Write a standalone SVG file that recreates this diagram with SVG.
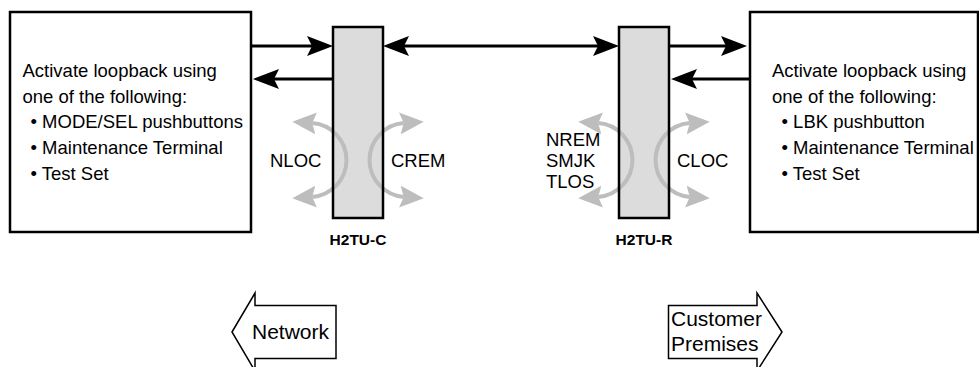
<svg xmlns="http://www.w3.org/2000/svg" width="979" height="367" viewBox="0 0 979 367">
<style>
text{font-family:"Liberation Sans",Arial,sans-serif;fill:#000}
.t{font-size:18.5px}
.lbl{font-size:15.5px;font-weight:bold;text-anchor:middle}
.big{font-size:21px}
.box{fill:#fff;stroke:#000;stroke-width:2.5}
.unitfill{fill:#dcdcdc;stroke:none}
.unitline{fill:none;stroke:#000;stroke-width:2.5}
.blk{fill:none;stroke:#000;stroke-width:3;marker-end:url(#ah)}
.dbl{marker-start:url(#ah)}
.loop{fill:none;stroke:#bdbdbd;stroke-width:4;marker-start:url(#gh);marker-end:url(#gh)}
.hollow{fill:#fff;stroke:#000;stroke-width:1.5;stroke-linejoin:miter}
</style>
<defs>
<marker id="ah" markerUnits="userSpaceOnUse" viewBox="0 -10 26 20" markerWidth="26" markerHeight="20" refX="15" refY="0" orient="auto-start-reverse">
<path d="M0,-10 L26,0 L0,10 L5,0 Z" fill="#000"/>
</marker>
<marker id="gh" markerUnits="userSpaceOnUse" viewBox="0 -11 24 22" markerWidth="24" markerHeight="22" refX="4" refY="0" orient="auto-start-reverse">
<path d="M0,-11 L24,0 L0,11 L4,0 Z" fill="#bdbdbd"/>
</marker>
</defs>

<g id="left-box">
<rect class="box" x="10" y="12" width="241" height="220"/>
<text class="t" x="22.5" y="77">Activate loopback using</text>
<text class="t" x="22.5" y="102.5">one of the following:</text>
<text class="t" x="30.5" y="128">• MODE/SEL pushbuttons</text>
<text class="t" x="30.5" y="154">• Maintenance Terminal</text>
<text class="t" x="30.5" y="180">• Test Set</text>
</g>

<g id="right-box">
<rect class="box" x="750" y="12" width="228" height="220"/>
<text class="t" x="772" y="77">Activate loopback using</text>
<text class="t" x="772" y="102.5">one of the following:</text>
<text class="t" x="781.5" y="128">• LBK pushbutton</text>
<text class="t" x="781.5" y="154">• Maintenance Terminal</text>
<text class="t" x="781.5" y="180">• Test Set</text>
</g>

<g id="h2tu-c">
<rect class="unitfill" x="333" y="27" width="50" height="191"/>
<path class="loop" d="M312.2,123.1 A37,37 0 0 1 312.2,196.9"/>
<path class="loop" d="M403.8,123.1 A37,37 0 0 0 403.8,196.9"/>
<rect class="unitline" x="333" y="27" width="50" height="191"/>
<text class="lbl" x="358" y="245">H2TU-C</text>
<text class="t" x="270" y="167">NLOC</text>
<text class="t" x="391" y="167">CREM</text>
</g>

<g id="h2tu-r">
<rect class="unitfill" x="619" y="27" width="50" height="191"/>
<path class="loop" d="M598.2,123.1 A37,37 0 0 1 598.2,196.9"/>
<path class="loop" d="M689.8,123.1 A37,37 0 0 0 689.8,196.9"/>
<rect class="unitline" x="619" y="27" width="50" height="191"/>
<text class="lbl" x="644" y="245">H2TU-R</text>
<text class="t" x="546" y="146">NREM</text>
<text class="t" x="546" y="167">SMJK</text>
<text class="t" x="546" y="188">TLOS</text>
<text class="t" x="677" y="167">CLOC</text>
</g>

<g id="connectors">
<path class="blk" d="M252,46 H322"/>
<path class="blk" d="M333,79 H264"/>
<path class="blk dbl" d="M394,46 H608"/>
<path class="blk" d="M670,46 H736"/>
<path class="blk" d="M749,79 H682"/>
</g>

<g id="network">
<path class="hollow" d="M232,332 L255,293 L255,305.5 L336,305.5 L336,358.5 L255,358.5 L255,371 Z"/>
<text class="big" x="252" y="339">Network</text>
</g>

<g id="customer-premises">
<path class="hollow" d="M782,332 L757,293 L757,305.5 L668.5,305.5 L668.5,358.5 L757,358.5 L757,371 Z"/>
<text class="big" x="671" y="326">Customer</text>
<text class="big" x="671" y="351">Premises</text>
</g>
</svg>
